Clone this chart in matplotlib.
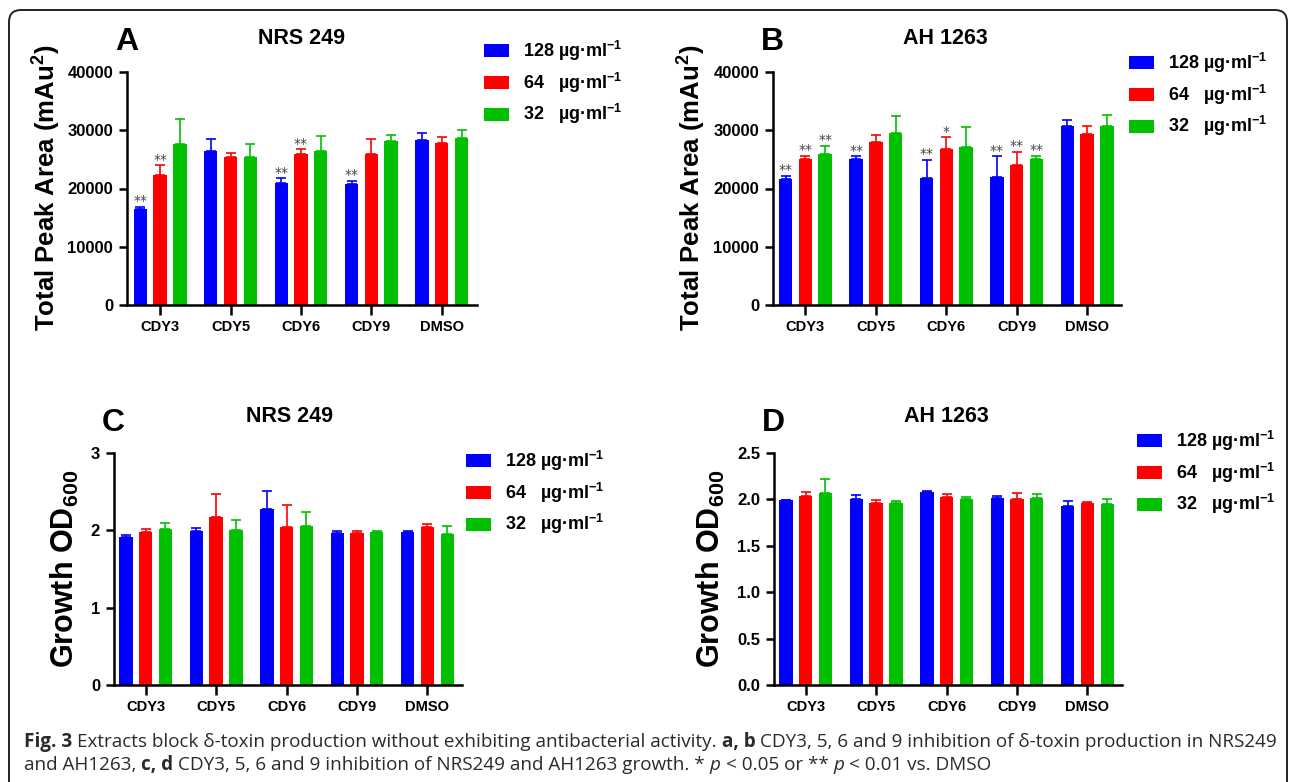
import numpy as np
import matplotlib
matplotlib.use("Agg")
import matplotlib.pyplot as plt
from matplotlib.patches import FancyBboxPatch
from matplotlib.ticker import FormatStrFormatter
from matplotlib.font_manager import FontProperties
import matplotlib.transforms as mtransforms

# ---------------- data ----------------
groups = ["CDY3", "CDY5", "CDY6", "CDY9", "DMSO"]
conc_labels = ["128 µg·ml$^{-1}$", "64   µg·ml$^{-1}$", "32   µg·ml$^{-1}$"]
colors = ["#0000FF", "#FF0000", "#00C000"]

# Panel A: NRS 249, total peak area
a_128 = [16500, 26420, 20860, 20750, 28250]
a_64 = [22350, 25330, 25840, 25960, 27800]
a_32 = [27620, 25330, 26470, 28080, 28590]
a_128_sd = [350, 2000, 920, 570, 1320]
a_64_sd = [1600, 680, 860, 2570, 1080]
a_32_sd = [4230, 2350, 2460, 1140, 1490]
a_sig_128 = ["**", "", "**", "**", ""]
a_sig_64 = ["**", "", "**", "", ""]
a_sig_32 = ["", "", "", "", ""]

# Panel B: AH 1263, total peak area
b_128 = [21660, 25100, 21780, 22000, 30720]
b_64 = [25040, 27900, 26760, 24120, 29280]
b_32 = [25960, 29570, 27040, 25040, 30720]
b_128_sd = [510, 460, 3140, 3500, 960]
b_64_sd = [570, 1320, 2000, 2180, 1370]
b_32_sd = [1420, 2800, 3560, 570, 1940]
b_sig_128 = ["**", "**", "**", "**", ""]
b_sig_64 = ["**", "", "*", "**", ""]
b_sig_32 = ["**", "", "", "**", ""]

# Panel C: NRS 249, growth OD600
c_128 = [1.91, 1.99, 2.27, 1.97, 1.98]
c_64 = [1.98, 2.17, 2.04, 1.97, 2.04]
c_32 = [2.02, 2.01, 2.05, 1.98, 1.95]
c_128_sd = [0.035, 0.035, 0.245, 0.025, 0.01]
c_64_sd = [0.04, 0.30, 0.285, 0.025, 0.045]
c_32_sd = [0.077, 0.12, 0.19, 0.01, 0.11]

# Panel D: AH 1263, growth OD600
d_128 = [1.99, 2.00, 2.08, 2.01, 1.93]
d_64 = [2.04, 1.96, 2.03, 2.00, 1.96]
d_32 = [2.07, 1.96, 2.00, 2.01, 1.95]
d_128_sd = [0.005, 0.05, 0.007, 0.03, 0.055]
d_64_sd = [0.04, 0.03, 0.03, 0.07, 0.01]
d_32_sd = [0.15, 0.025, 0.03, 0.045, 0.05]

# ---------------- style ----------------
W, H = 1290, 782
plt.rcParams["font.family"] = ["Liberation Sans", "DejaVu Sans"]
plt.rcParams["font.weight"] = "bold"
plt.rcParams["mathtext.fontset"] = "custom"
plt.rcParams["mathtext.rm"] = "Liberation Sans:bold"
plt.rcParams["mathtext.bf"] = "Liberation Sans:bold"
plt.rcParams["mathtext.it"] = "Liberation Sans:bold"
plt.rcParams["mathtext.sf"] = "Liberation Sans:bold"

fig = plt.figure(figsize=(W / 100, H / 100), dpi=100)


def fx(px):
    return px / W


def fy(py):
    return 1 - py / H


def make_axes(l, r, t, b):
    return fig.add_axes([fx(l), fy(b), (r - l) / W, (b - t) / H])


offsets = [-0.28, 0.0, 0.28]
bar_w = 0.19


def draw_panel(ax, series, sds, sigs, ylim, yticks, fmt, xlim, ytick_fs):
    handles = []
    for j in range(3):
        x = np.arange(len(groups)) + offsets[j]
        vals = np.array(series[j], dtype=float)
        sd = np.array(sds[j], dtype=float)
        bc = ax.bar(x, vals, bar_w, color=colors[j], label=conc_labels[j], zorder=2)
        handles.append(bc)
        ax.errorbar(x, vals, yerr=[np.zeros_like(sd), sd], fmt="none",
                    ecolor=colors[j], elinewidth=1.2, capsize=3.3, capthick=1.2,
                    zorder=1)
        if sigs is not None:
            for xi, v, s, sg in zip(x, vals, sd, sigs[j]):
                if sg:
                    ax.annotate(sg, xy=(xi, v + s), xytext=(0, -1),
                                textcoords="offset points", ha="center",
                                va="bottom", fontsize=10, fontweight="normal",
                                color="#444444", family="DejaVu Sans")
    ax.set_xlim(*xlim)
    ax.set_ylim(*ylim)
    ax.set_yticks(yticks)
    ax.yaxis.set_major_formatter(FormatStrFormatter(fmt))
    ax.set_xticks(np.arange(len(groups)))
    ax.set_xticklabels(groups, fontsize=10.5, fontweight="bold")
    for lab in ax.get_yticklabels():
        lab.set_fontsize(ytick_fs)
        lab.set_fontweight("bold")
    for side in ["top", "right"]:
        ax.spines[side].set_visible(False)
    for side in ["left", "bottom"]:
        ax.spines[side].set_linewidth(1.8)
    ax.tick_params(axis="y", length=6, width=1.8, pad=4)
    ax.tick_params(axis="x", length=7, width=1.8, pad=4)
    return handles


def add_legend(ax, handles, left_px, top_px):
    ax.legend(handles, conc_labels, loc="upper left",
              bbox_to_anchor=(fx(left_px), fy(top_px)),
              bbox_transform=fig.transFigure, frameon=False, borderpad=0,
              borderaxespad=0, handlelength=1.38, handleheight=0.72,
              handletextpad=0.78, labelspacing=0.42,
              prop=FontProperties(family="Liberation Sans", weight="bold", size=13))


# Panel A
axA = make_axes(127, 477, 72, 305)
hA = draw_panel(axA, [a_128, a_64, a_32], [a_128_sd, a_64_sd, a_32_sd],
                [a_sig_128, a_sig_64, a_sig_32], (0, 40000),
                [0, 10000, 20000, 30000, 40000], "%d", (-0.47, 4.5), 12)
add_legend(axA, hA, 484, 39)

# Panel B
axB = make_axes(773, 1121, 72, 305)
hB = draw_panel(axB, [b_128, b_64, b_32], [b_128_sd, b_64_sd, b_32_sd],
                [b_sig_128, b_sig_64, b_sig_32], (0, 40000),
                [0, 10000, 20000, 30000, 40000], "%d", (-0.46, 4.48), 12)
add_legend(axB, hB, 1129, 51)

# Panel C
axC = make_axes(114, 462, 453, 685)
hC = draw_panel(axC, [c_128, c_64, c_32], [c_128_sd, c_64_sd, c_32_sd],
                None, (0, 3), [0, 1, 2, 3], "%d", (-0.45, 4.49), 12)
add_legend(axC, hC, 466, 449)

# Panel D
axD = make_axes(774, 1122, 453, 685)
hD = draw_panel(axD, [d_128, d_64, d_32], [d_128_sd, d_64_sd, d_32_sd],
                None, (0, 2.5), [0, 0.5, 1.0, 1.5, 2.0, 2.5], "%.1f", (-0.45, 4.49), 12)
add_legend(axD, hD, 1137, 429)

# Titles, panel letters, y labels
title_kw = dict(fontsize=15.5, fontweight="bold", ha="center", va="center")
fig.text(fx(302), fy(38), "NRS 249", **title_kw)
fig.text(fx(945), fy(38), "AH 1263", **title_kw)
fig.text(fx(290), fy(417), "NRS 249", **title_kw)
fig.text(fx(946), fy(417), "AH 1263", **title_kw)

letter_kw = dict(fontsize=23, fontweight="bold", ha="center", va="center")
fig.text(fx(127), fy(42), "A", **letter_kw)
fig.text(fx(772), fy(42), "B", **letter_kw)
fig.text(fx(113), fy(423), "C", **letter_kw)
fig.text(fx(773), fy(423), "D", **letter_kw)

yl_kw = dict(fontsize=18.5, fontweight="bold", ha="center", va="center", rotation=90)
fig.text(fx(47), fy(188), "Total Peak Area (mAu$^2$)", **yl_kw)
fig.text(fx(692), fy(188), "Total Peak Area (mAu$^2$)", **yl_kw)
yl2_kw = dict(fontsize=22, fontweight="bold", ha="center", va="center", rotation=90)
fig.text(fx(65), fy(569), "Growth OD$_{600}$", **yl2_kw)
fig.text(fx(711), fy(569), "Growth OD$_{600}$", **yl2_kw)

# Border box
box = FancyBboxPatch((9, -30), 1278, H - 10 + 30,
                     boxstyle="round,pad=0,rounding_size=12",
                     transform=mtransforms.IdentityTransform(),
                     fill=False, lw=1.4, ec="#222222")
fig.add_artist(box)

# Caption
cap_fs = 13.6
cap_fam = ["Open Sans", "DejaVu Sans"]
styles = {"n": dict(fontweight="normal", fontstyle="normal"),
          "b": dict(fontweight="bold", fontstyle="normal"),
          "i": dict(fontweight="normal", fontstyle="italic")}
line1 = [("Fig. 3", "b", True),
         ("Extracts block δ-toxin production without exhibiting antibacterial activity.", "n", True),
         ("a, b", "b", True),
         ("CDY3, 5, 6 and 9 inhibition of δ-toxin production in NRS249", "n", False)]
line2 = [("and AH1263,", "n", True),
         ("c, d", "b", True),
         ("CDY3, 5, 6 and 9 inhibition of NRS249 and AH1263 growth. *", "n", True),
         ("p", "i", True),
         ("< 0.05 or **", "n", True),
         ("p", "i", True),
         ("< 0.01 vs. DMSO", "n", False)]

fig.canvas.draw()
renderer = fig.canvas.get_renderer()
t1 = fig.text(0, 0, "x x", fontsize=cap_fs, family=cap_fam, **styles["n"])
t2 = fig.text(0, 0, "xx", fontsize=cap_fs, family=cap_fam, **styles["n"])
space_w = t1.get_window_extent(renderer).width - t2.get_window_extent(renderer).width
t1.remove()
t2.remove()


def draw_line(pieces, x0, ybase):
    x = x0
    for txt, st, sp in pieces:
        t = fig.text(fx(x), fy(ybase), txt, fontsize=cap_fs, family=cap_fam,
                     color="#2a2a2a", ha="left", va="baseline", **styles[st])
        w = t.get_window_extent(renderer).width
        x += w + (space_w if sp else 0)


draw_line(line1, 24, 747)
draw_line(line2, 24, 770)

fig.savefig("out.png", dpi=100)
